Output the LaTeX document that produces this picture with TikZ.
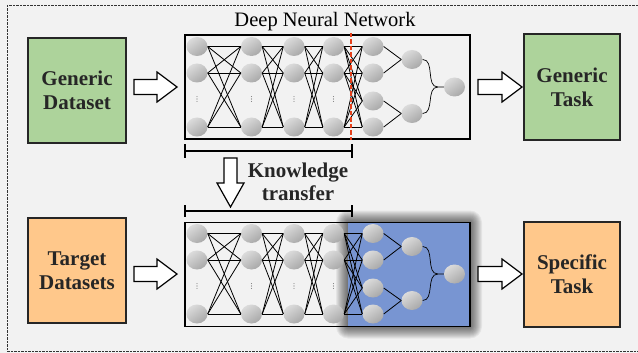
\documentclass[tikz,border=0pt]{standalone}
\usepackage{fontspec}
\setmainfont{Liberation Serif}
\usetikzlibrary{shapes.geometric}
\definecolor{bgc}{HTML}{F2F2F2}
\definecolor{greenbox}{HTML}{ADD39B}
\definecolor{orangebox}{HTML}{FFC88B}
\definecolor{bluereg}{HTML}{7895D2}
\definecolor{reddash}{HTML}{E4401B}
\tikzset{
 neuron/.style={ellipse, minimum width=21pt, minimum height=19pt, inner sep=0pt, draw=none, shade, top color=gray!28, bottom color=gray!68, shading angle=35},
 databox/.style={draw=black!85, line width=1.1pt, minimum width=98pt, minimum height=105pt, align=center, font=\fontsize{21}{24}\selectfont\bfseries, text=black!85, inner sep=0pt},
 blockarrow/.style={draw=black, line width=1.2pt, fill=white, line join=miter},
 conn/.style={line width=0.8pt, black},
 curveconn/.style={line width=0.7pt, black},
 bracket/.style={line width=1.2pt, black},
 netbox/.style={draw=black, minimum width=285pt, minimum height=104pt, inner sep=0pt},
 dotmark/.style={fill=black!55},
 shadowlayer/.style={fill=black, opacity=0.055},
}
\newcommand\mknet[2]{%
 \foreach \c/\x in {1/197,2/251.5,3/294,4/333.5}{
   \node[neuron] (#1\c a) at (\x,46.5+#2) {};
   \node[neuron] (#1\c b) at (\x,73+#2) {};
   \coordinate (#1\c c) at (\x,99+#2);
   \foreach \k in {-2.4,0,2.4}{\fill[dotmark] ([yshift=\k pt]#1\c c) circle (0.55pt);}
   \node[neuron] (#1\c d) at (\x,127+#2) {};
 }
 \node[neuron] (#15a) at (373,46.5+#2) {};
 \node[neuron] (#15b) at (373,73+#2) {};
 \node[neuron] (#15c) at (373,101+#2) {};
 \node[neuron] (#15d) at (373,127+#2) {};
 \node[neuron] (#16a) at (412,59.5+#2) {};
 \node[neuron] (#16b) at (412,113.5+#2) {};
 \node[neuron] (#17) at (454.5,87+#2) {};
 \foreach \i/\j in {1/2,2/3,3/4}{
   \foreach \r in {a,b,d}{
     \foreach \s in {a,b,d}{
       \draw[conn] (#1\i\r.east) -- (#1\j\s.west);
     }
   }
 }
 \foreach \r in {a,b,d}{
   \foreach \s in {a,b,c,d}{
     \draw[conn] (#14\r.east) -- (#15\s.west);
   }
 }
 \draw[conn] (#15a.east) -- (#16a.west);
 \draw[conn] (#15b.east) -- (#16a.west);
 \draw[conn] (#15c.east) -- (#16b.west);
 \draw[conn] (#15d.east) -- (#16b.west);
 \draw[curveconn] (#16a.east) to[out=0,in=180] ([xshift=-6pt]#17.west) -- (#17.west);
 \draw[curveconn] (#16b.east) to[out=0,in=180] ([xshift=-6pt]#17.west);
}
\begin{document}
\begin{tikzpicture}[x=1pt,y=-1pt]
\useasboundingbox (0,0) rectangle (638,353);
\fill[bgc] (0,0) rectangle (638,353);
\draw[black!80, line width=0.8pt, dash pattern=on 2.2pt off 1.3pt] (7,5) rectangle (645,351);

% data and task boxes
\node[databox, fill=greenbox] (gdata) at (77,90.5) {Generic\\Dataset};
\node[databox, fill=greenbox, minimum width=96pt, minimum height=106pt] (gtask) at (572,87) {Generic\\Task};
\node[databox, fill=orangebox] (tdata) at (77,270.5) {Target\\Datasets};
\node[databox, fill=orangebox, minimum width=96pt, minimum height=105pt] (stask) at (572,274.5) {Specific\\Task};

% title
\node[anchor=base, font=\fontsize{20.5}{24}\selectfont] (title) at (325,27) {Deep Neural Network};

% top network
\node[netbox, line width=1.1pt, fill=bgc] (topnet) at (327.5,87) {};
\mknet{t}{0}
\draw[reddash, line width=1.6pt, dash pattern=on 4.5pt off 2pt] (351,33) -- (351,140);

% bottom network
\node[netbox, line width=1.6pt, fill=bgc] (botnet) at (327.5,274.5) {};
\foreach \i in {1,...,12}{
  \fill[shadowlayer, rounded corners=\i pt] (348-\i,222.5-\i) rectangle (470+\i,326.5+\i);
}
\fill[bluereg] (348,222.5) rectangle (470,326.5);
\draw[line width=1.6pt] (185,222.5) rectangle (470,326.5);
\mknet{b}{187}

% brackets
\draw[bracket] (185,144) -- (185,158);
\draw[bracket] (352,144) -- (352,158);
\draw[bracket] (185,151) -- (352,151);
\draw[bracket] (185,205) -- (185,217);
\draw[bracket] (352,205) -- (352,217);
\draw[bracket] (185,211) -- (352,211);

% knowledge transfer
\draw[blockarrow] (224,158) -- (237,158) -- (237,183) -- (244,183) -- (230.5,207) -- (217,183) -- (224,183) -- cycle;
\node[align=center, font=\fontsize{21}{22.5}\selectfont\bfseries, text=black!85] (kt) at (298,182) {Knowledge\\transfer};

% block arrows
\foreach \yy in {87,274}{
  \draw[blockarrow] (134,\yy-7.5) -- (157,\yy-7.5) -- (157,\yy-15) -- (177,\yy) -- (157,\yy+15) -- (157,\yy+7.5) -- (134,\yy+7.5) -- cycle;
  \draw[blockarrow] (478,\yy-7.5) -- (502,\yy-7.5) -- (502,\yy-15) -- (522,\yy) -- (502,\yy+15) -- (502,\yy+7.5) -- (478,\yy+7.5) -- cycle;
}
\end{tikzpicture}
\end{document}
